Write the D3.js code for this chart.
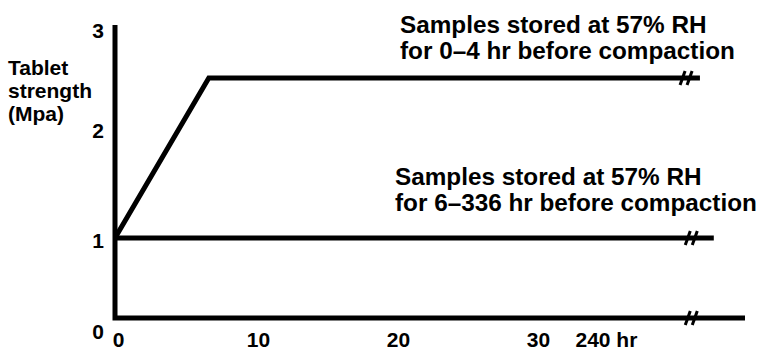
<!DOCTYPE html>
<html>
<head>
<meta charset="utf-8">
<script src="https://cdn.jsdelivr.net/npm/d3@7"></script>
<style>
    body { margin: 0; background: #fff; }
    svg text { font-family: "Liberation Sans", Arial, sans-serif; font-weight: bold; fill: #000; }
</style>
</head>
<body>
<script>
// schematic values (x in hr, broken axis after 30)
const yTicks = [0, 1, 2, 3];
const xTicks = [0, 10, 20, 30, 240];
const xTickLabels = ['0', '10', '20', '30', '240 hr'];
const yLabelLines = ['Tablet', 'strength', '(Mpa)'];

const shortHrX = [0, 6.7, 304];
const shortHrY = [1, 2.5, 2.5];
const longHrX = [0, 312];
const longHrY = [1, 1];
const axisEndX = 330;
const breakAt = [296, 299, 299]; // short series, long series, x axis

const shortLabel = ['Samples stored at 57% RH', 'for 0\u20134 hr before compaction'];
const longLabel = ['Samples stored at 57% RH', 'for 6\u2013336 hr before compaction'];

const width = 761, height = 350;

// piecewise scales: the figure is drawn by hand, ticks are not evenly spaced
const x = d3.scaleLinear()
    .domain([0, 30, 240, 330])
    .range([115, 535, 589, 745]);
const y = d3.scaleLinear()
    .domain([0, 1, 2, 3])
    .range([318, 238, 128, 28]);

const svg = d3.select('body').append('svg')
    .attr('width', width)
    .attr('height', height);

// axes frame
svg.append('path')
    .attr('d', 'M' + x(0) + ',' + (y(3) - 3) + 'V' + y(0) + 'H' + x(axisEndX))
    .attr('fill', 'none')
    .attr('stroke', '#000')
    .attr('stroke-width', 5)
    .attr('stroke-linejoin', 'miter');

// tick labels through d3 axes
const yAxis = d3.axisLeft(y).tickValues(yTicks).tickSize(0).tickPadding(11)
    .tickFormat(d3.format('d'));
const yG = svg.append('g').attr('transform', 'translate(' + x(0) + ',0)').call(yAxis);
yG.select('.domain').remove();
yG.selectAll('text')
    .style('font-size', '21px')
    .attr('dy', d => d === 0 ? '0.98em' : '0.45em');

const xAxis = d3.axisBottom(x).tickValues(xTicks).tickSize(0).tickPadding(0)
    .tickFormat((d, i) => xTickLabels[i]);
const xG = svg.append('g').attr('transform', 'translate(0,' + y(0) + ')').call(xAxis);
xG.select('.domain').remove();
xG.selectAll('text')
    .style('font-size', '21px')
    .attr('y', 29)
    .attr('dy', 0)
    .attr('dx', 3)
    .attr('text-anchor', d => d === 240 ? 'start' : 'middle')
    .attr('x', d => d === 240 ? -17 : 0);

// y title
svg.append('text')
    .style('font-size', '21px')
    .selectAll('tspan')
    .data(yLabelLines)
    .join('tspan')
    .attr('x', 8)
    .attr('y', (d, i) => 75 + i * 23)
    .text(d => d);

// series lines
const line = d3.line().x(d => x(d[0])).y(d => y(d[1]));
const series = [
    d3.zip(shortHrX, shortHrY),
    d3.zip(longHrX, longHrY)
];
svg.selectAll('path.series')
    .data(series)
    .join('path')
    .attr('class', 'series')
    .attr('d', line)
    .attr('fill', 'none')
    .attr('stroke', '#000')
    .attr('stroke-width', 5)
    .attr('stroke-linejoin', 'miter');

// axis break marks
const breaks = [[breakAt[0], 2.5], [breakAt[1], 1], [breakAt[2], 0]];
breaks.forEach(b => {
    const cx = x(b[0]), cy = y(b[1]);
    [-3.5, 3.5].forEach(off => {
        svg.append('line')
            .attr('x1', cx + off - 2.5).attr('y1', cy + 7)
            .attr('x2', cx + off + 2.5).attr('y2', cy - 7)
            .attr('stroke', '#000')
            .attr('stroke-width', 3);
    });
});

// annotations
function note(lines, tx, ty) {
    svg.append('text')
        .style('font-size', '24.3px')
        .selectAll('tspan')
        .data(lines)
        .join('tspan')
        .attr('x', tx)
        .attr('y', (d, i) => ty + i * 25.5)
        .text(d => d);
}
note(shortLabel, 400, 33);
note(longLabel, 395, 185);
</script>
</body>
</html>
